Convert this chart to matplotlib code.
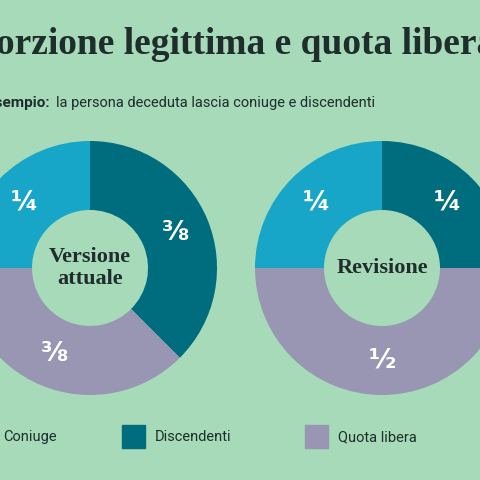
import matplotlib
matplotlib.use("Agg")
import matplotlib.pyplot as plt
from matplotlib.patches import Rectangle

BG = "#a6dab8"
COLORS = {"Coniuge": "#17a6c8", "Discendenti": "#006d7e", "Quota libera": "#9896b3"}
TEXT = "#1f2d2d"

title = "Porzione legittima e quota libera"
subtitle_bold = "Esempio:"
subtitle = "la persona deceduta lascia coniuge e discendenti"

# slices in clockwise order starting from 12 o'clock, values in eighths
order = ["Discendenti", "Quota libera", "Coniuge"]
current = [3, 3, 2]
current_labels = ["⅜", "⅜", "¼"]
revision = [2, 4, 2]
revision_labels = ["¼", "½", "¼"]
centres = ["Versione\nattuale", "Revisione"]

W = H = 480
fig = plt.figure(figsize=(4.8, 4.8), dpi=100, facecolor=BG)


def px_axes(cx, cy, r):
    return fig.add_axes([(cx - r) / W, (H - cy - r) / H, 2 * r / W, 2 * r / H])


def donut(cx, cy, values, labels, centre):
    ax = px_axes(cx, cy, 127)
    ax.pie(values, colors=[COLORS[k] for k in order], startangle=90,
           counterclock=False, radius=1, labels=labels, labeldistance=0.73,
           textprops=dict(color="white", fontsize=19, fontweight="bold"),
           wedgeprops=dict(width=(127 - 58) / 127, linewidth=0))
    for t in ax.texts:
        t.set_ha("center")
        t.set_va("center")
    ax.text(0, 0, centre, ha="center", va="center", fontsize=16,
            fontweight="bold", family="Liberation Serif", color=TEXT,
            linespacing=1.1)
    ax.set_xlim(-1, 1)
    ax.set_ylim(-1, 1)
    ax.set_aspect("equal")
    ax.axis("off")


donut(90, 268, current, current_labels, centres[0])
donut(382, 268, revision, revision_labels, centres[1])

fig.text(-27 / W, 1 - 45 / H, title, ha="left", va="center", fontsize=27,
         fontweight="bold", family="Liberation Serif", color=TEXT)
fig.text(50 / W, 1 - 103 / H, subtitle_bold, ha="right", va="center",
         fontsize=11, fontweight="bold", color=TEXT, family="Roboto")
fig.text(56 / W, 1 - 103 / H, subtitle, ha="left", va="center",
         fontsize=10.5, color=TEXT, family="Roboto")

legend_x = [-30, 122, 305]
for x, name in zip(legend_x, ["Coniuge", "Discendenti", "Quota libera"]):
    fig.patches.append(Rectangle((x / W, 1 - 448 / H), 23 / W, 23 / H,
                                 transform=fig.transFigure,
                                 color=COLORS[name]))
    fig.text((x + 33) / W, 1 - 437 / H, name, ha="left", va="center",
             fontsize=10.5, color=TEXT, family="Roboto")

fig.savefig("out.png", dpi=100, facecolor=BG)
